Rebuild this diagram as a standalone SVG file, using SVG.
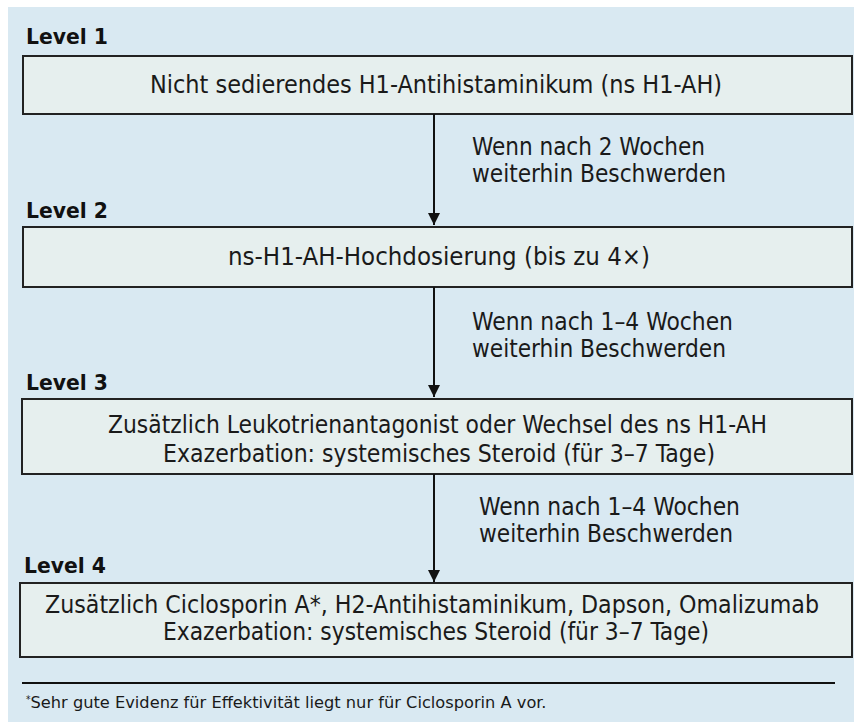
<svg xmlns="http://www.w3.org/2000/svg" width="854" height="722" viewBox="0 0 854 722">
<style>
.bg{fill:#d9e9f2}
.box{fill:#e6efee;stroke:#222;stroke-width:2}
.t{font-family:"DejaVu Sans Condensed","Liberation Sans",sans-serif;font-size:24px;fill:#1a1a1a}
.lv{font-family:"DejaVu Sans Condensed","Liberation Sans",sans-serif;font-size:22px;font-weight:bold;fill:#111}
.fn{font-family:"DejaVu Sans Condensed","Liberation Sans",sans-serif;font-size:15px;fill:#1a1a1a}
.c{text-anchor:middle}
.edge{stroke:#111;stroke-width:2;fill:none}
</style>
<defs>
<marker id="ah" viewBox="0 0 12 12" refX="12" refY="6" markerWidth="12" markerHeight="12" markerUnits="userSpaceOnUse" orient="auto">
<path d="M0,0 L12,6 L0,12 Z" fill="#111"/>
</marker>
</defs>
<rect width="854" height="722" fill="#ffffff"/>
<rect class="bg" x="8" y="7" width="846" height="715"/>

<g id="level1">
<text class="lv" x="26" y="44" textLength="82" lengthAdjust="spacingAndGlyphs">Level 1</text>
<rect class="box" x="23" y="56" width="829" height="58"/>
<text class="t c" x="436" y="93" textLength="572" lengthAdjust="spacingAndGlyphs">Nicht sedierendes H1-Antihistaminikum (ns H1-AH)</text>
</g>

<g id="level2">
<text class="lv" x="26" y="218" textLength="82" lengthAdjust="spacingAndGlyphs">Level 2</text>
<rect class="box" x="23" y="227" width="829" height="60"/>
<text class="t c" x="439" y="265" textLength="422" lengthAdjust="spacingAndGlyphs">ns-H1-AH-Hochdosierung (bis zu 4×)</text>
</g>

<g id="level3">
<text class="lv" x="26" y="390" textLength="82" lengthAdjust="spacingAndGlyphs">Level 3</text>
<rect class="box" x="22" y="399" width="830" height="75"/>
<text class="t c" x="437.5" y="433" textLength="659" lengthAdjust="spacingAndGlyphs">Zusätzlich Leukotrienantagonist oder Wechsel des ns H1-AH</text>
<text class="t c" x="439" y="462" textLength="552" lengthAdjust="spacingAndGlyphs">Exazerbation: systemisches Steroid (für 3–7 Tage)</text>
</g>

<g id="level4">
<text class="lv" x="24" y="573" textLength="82" lengthAdjust="spacingAndGlyphs">Level 4</text>
<rect class="box" x="20" y="583" width="832" height="74"/>
<text class="t c" x="432" y="613" textLength="774" lengthAdjust="spacingAndGlyphs">Zusätzlich Ciclosporin A*, H2-Antihistaminikum, Dapson, Omalizumab</text>
<text class="t c" x="436" y="640" textLength="546" lengthAdjust="spacingAndGlyphs">Exazerbation: systemisches Steroid (für 3–7 Tage)</text>
</g>

<g id="connectors">
<line class="edge" x1="434" y1="114" x2="434" y2="225" marker-end="url(#ah)"/>
<line class="edge" x1="434" y1="287" x2="434" y2="397" marker-end="url(#ah)"/>
<line class="edge" x1="434" y1="474" x2="434" y2="582" marker-end="url(#ah)"/>
<text class="t" x="472" y="155" textLength="233" lengthAdjust="spacingAndGlyphs">Wenn nach 2 Wochen</text>
<text class="t" x="472" y="182" textLength="254" lengthAdjust="spacingAndGlyphs">weiterhin Beschwerden</text>
<text class="t" x="472" y="330" textLength="261" lengthAdjust="spacingAndGlyphs">Wenn nach 1–4 Wochen</text>
<text class="t" x="472" y="357" textLength="254" lengthAdjust="spacingAndGlyphs">weiterhin Beschwerden</text>
<text class="t" x="479" y="515" textLength="261" lengthAdjust="spacingAndGlyphs">Wenn nach 1–4 Wochen</text>
<text class="t" x="479" y="542" textLength="254" lengthAdjust="spacingAndGlyphs">weiterhin Beschwerden</text>
</g>

<g id="footnote">
<line x1="22" y1="683" x2="835" y2="683" stroke="#111" stroke-width="2"/>
<text class="fn" x="26" y="708"><tspan font-size="10" dy="-5">*</tspan><tspan dy="5" textLength="516" lengthAdjust="spacingAndGlyphs">Sehr gute Evidenz für Effektivität liegt nur für Ciclosporin A vor.</tspan></text>
</g>
</svg>
